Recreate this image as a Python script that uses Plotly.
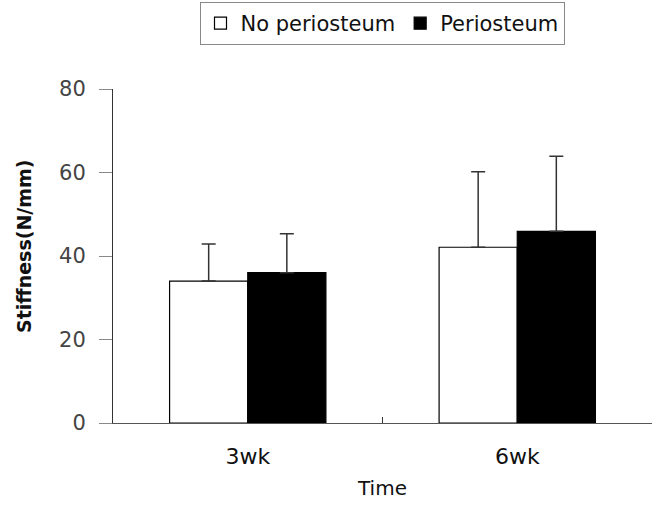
import plotly.graph_objects as go

categories = ["3wk", "6wk"]
no_periosteum = [34.0, 42.1]
no_periosteum_err = [8.9, 18.1]
periosteum = [36.0, 45.9]
periosteum_err = [9.3, 18.0]
y_ticks = [0, 20, 40, 60, 80]

FONT = "DejaVu Sans, Arial, sans-serif"

fig = go.Figure()
fig.add_trace(go.Bar(
    name="No periosteum", x=categories, y=no_periosteum,
    marker=dict(color="white", line=dict(color="black", width=1.2)),
    error_y=dict(type="data", array=no_periosteum_err, arrayminus=[0, 0],
                 symmetric=False, color="#333333", thickness=1.5, width=7),
))
fig.add_trace(go.Bar(
    name="Periosteum", x=categories, y=periosteum,
    marker=dict(color="black", line=dict(color="black", width=1.2)),
    error_y=dict(type="data", array=periosteum_err, arrayminus=[0, 0],
                 symmetric=False, color="#333333", thickness=1.5, width=7),
))

fig.update_layout(
    width=658, height=506,
    margin=dict(l=113, r=6, t=89, b=83),
    paper_bgcolor="white", plot_bgcolor="white",
    barmode="group", bargap=0.42, bargroupgap=0,
    font=dict(family=FONT, color="#222222"),
    showlegend=True,
    legend=dict(
        orientation="h", x=382 / 658, xanchor="center", xref="container",
        y=0.996, yanchor="top", yref="container",
        bordercolor="#888888", borderwidth=1,
        font=dict(size=21, color="#111111"),
        itemwidth=30, tracegroupgap=0,
    ),
    xaxis=dict(
        range=[-0.5, 1.5], showline=True, linecolor="#555555", linewidth=1,
        ticks="inside", tickson="boundaries", ticklen=6, tickcolor="#333333",
        tickfont=dict(size=22, color="#111111"), ticklabelstandoff=14,
        title=dict(text="Time", font=dict(size=20, color="#111111"), standoff=12),
        showgrid=False, zeroline=False, automargin=False,
    ),
    yaxis=dict(
        range=[0, 80], tickvals=y_ticks, showline=True, linecolor="#333333", linewidth=1,
        ticks="outside", ticklen=13, tickcolor="#888888",
        tickfont=dict(size=21, color="#444444"), ticklabelstandoff=9,
        showgrid=False, zeroline=False, automargin=False,
    ),
    annotations=[dict(
        text="<b>Stiffness(N/mm)</b>", textangle=-90,
        xref="paper", yref="paper", x=(24 - 113) / 539, y=(423 - 246) / 334,
        xanchor="center", yanchor="middle", showarrow=False,
        font=dict(size=19, color="#111111", family=FONT),
    )],
)

fig.write_html("out.html", config={"displayModeBar": False},
               post_script="document.body.style.margin='0px';")
